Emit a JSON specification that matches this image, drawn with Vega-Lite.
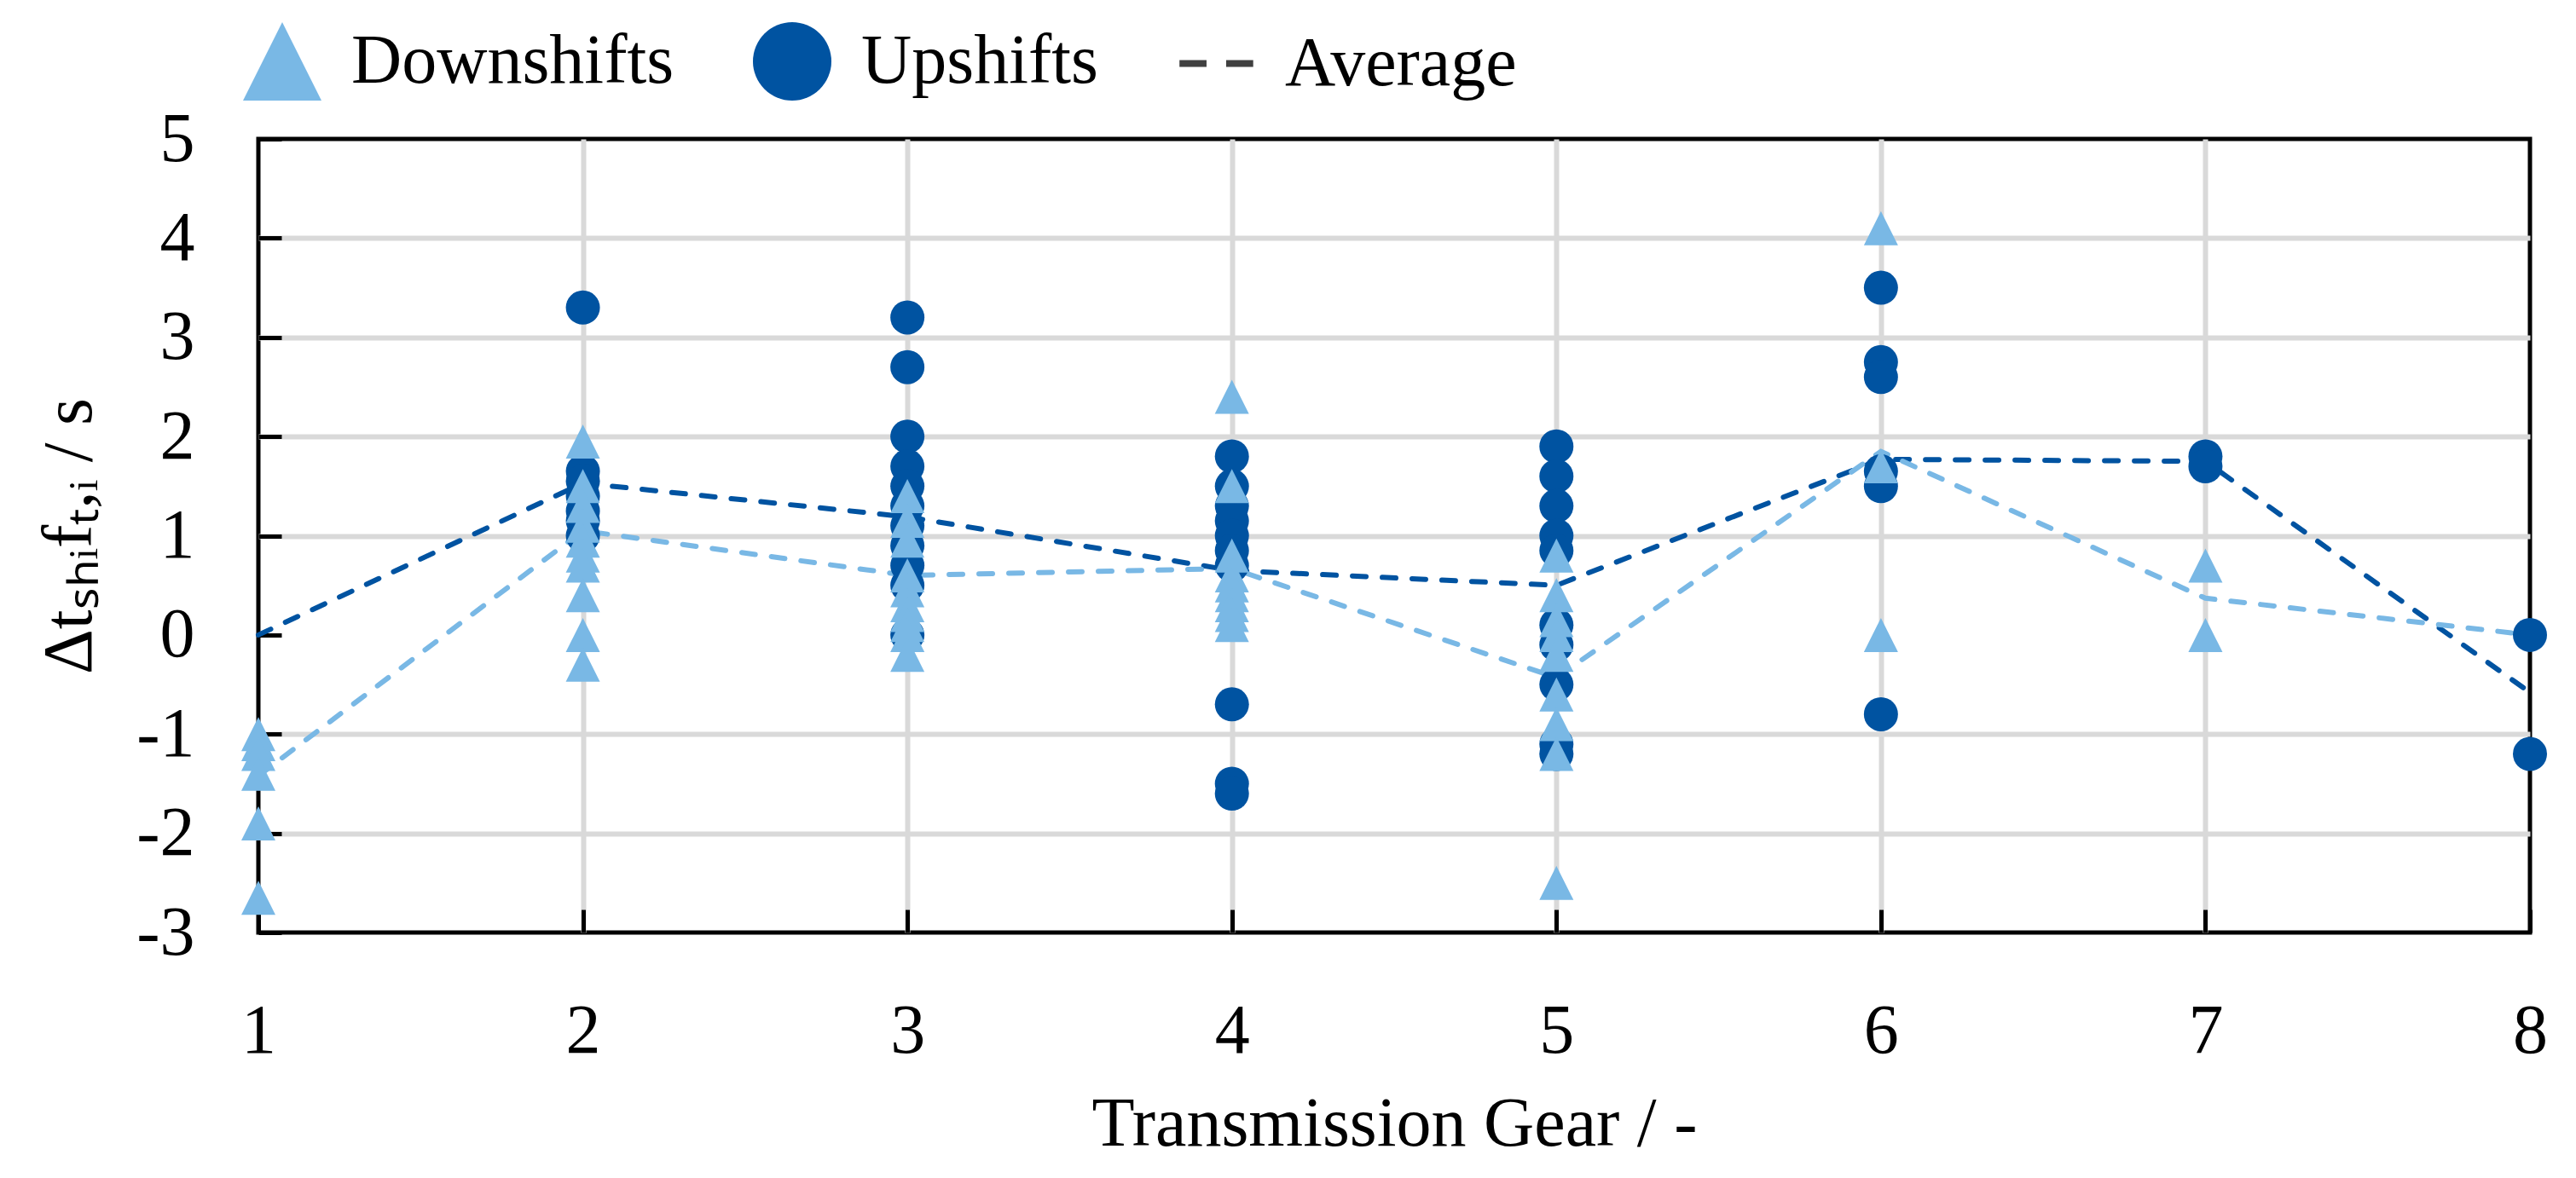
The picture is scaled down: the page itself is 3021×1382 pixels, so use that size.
{
  "$schema": "https://vega.github.io/schema/vega-lite/v6.json",
  "width": 2664,
  "height": 931,
  "autosize": {"type": "none"},
  "padding": {"left": 303, "top": 163, "right": 54, "bottom": 288},
  "background": "white",
  "config": {
    "font": "Liberation Serif",
    "view": {"stroke": "black", "strokeWidth": 5},
    "axis": {
      "labelFont": "Liberation Serif",
      "labelFontSize": 82,
      "labelColor": "black",
      "labelFlush": false,
      "titleFont": "Liberation Serif",
      "titleFontSize": 82,
      "titleFontWeight": "normal",
      "titleColor": "black",
      "domain": false,
      "tickColor": "black",
      "tickWidth": 5,
      "tickSize": -27,
      "gridWidth": 6,
      "labelPadding": 102
    },
    "legend": {
      "labelFont": "Liberation Serif",
      "labelFontSize": 82,
      "labelColor": "black",
      "labelLimit": 2000
    }
  },
  "datasets": {
    "points": [
      {"gear": 2, "value": 3.3, "type": "Upshifts"},
      {"gear": 2, "value": 1.65, "type": "Upshifts"},
      {"gear": 2, "value": 1.55, "type": "Upshifts"},
      {"gear": 2, "value": 1.4, "type": "Upshifts"},
      {"gear": 2, "value": 1.25, "type": "Upshifts"},
      {"gear": 2, "value": 1.15, "type": "Upshifts"},
      {"gear": 2, "value": 1.0, "type": "Upshifts"},
      {"gear": 3, "value": 3.2, "type": "Upshifts"},
      {"gear": 3, "value": 2.7, "type": "Upshifts"},
      {"gear": 3, "value": 2.0, "type": "Upshifts"},
      {"gear": 3, "value": 1.7, "type": "Upshifts"},
      {"gear": 3, "value": 1.5, "type": "Upshifts"},
      {"gear": 3, "value": 1.3, "type": "Upshifts"},
      {"gear": 3, "value": 1.1, "type": "Upshifts"},
      {"gear": 3, "value": 0.9, "type": "Upshifts"},
      {"gear": 3, "value": 0.7, "type": "Upshifts"},
      {"gear": 3, "value": 0.5, "type": "Upshifts"},
      {"gear": 3, "value": 0.0, "type": "Upshifts"},
      {"gear": 4, "value": 1.8, "type": "Upshifts"},
      {"gear": 4, "value": 1.5, "type": "Upshifts"},
      {"gear": 4, "value": 1.3, "type": "Upshifts"},
      {"gear": 4, "value": 1.15, "type": "Upshifts"},
      {"gear": 4, "value": 1.0, "type": "Upshifts"},
      {"gear": 4, "value": 0.85, "type": "Upshifts"},
      {"gear": 4, "value": 0.7, "type": "Upshifts"},
      {"gear": 4, "value": -0.7, "type": "Upshifts"},
      {"gear": 4, "value": -1.5, "type": "Upshifts"},
      {"gear": 4, "value": -1.6, "type": "Upshifts"},
      {"gear": 5, "value": 1.9, "type": "Upshifts"},
      {"gear": 5, "value": 1.6, "type": "Upshifts"},
      {"gear": 5, "value": 1.3, "type": "Upshifts"},
      {"gear": 5, "value": 1.0, "type": "Upshifts"},
      {"gear": 5, "value": 0.85, "type": "Upshifts"},
      {"gear": 5, "value": 0.1, "type": "Upshifts"},
      {"gear": 5, "value": -0.1, "type": "Upshifts"},
      {"gear": 5, "value": -0.5, "type": "Upshifts"},
      {"gear": 5, "value": -1.1, "type": "Upshifts"},
      {"gear": 5, "value": -1.2, "type": "Upshifts"},
      {"gear": 6, "value": 3.5, "type": "Upshifts"},
      {"gear": 6, "value": 2.75, "type": "Upshifts"},
      {"gear": 6, "value": 2.6, "type": "Upshifts"},
      {"gear": 6, "value": 1.65, "type": "Upshifts"},
      {"gear": 6, "value": 1.5, "type": "Upshifts"},
      {"gear": 6, "value": -0.8, "type": "Upshifts"},
      {"gear": 7, "value": 1.8, "type": "Upshifts"},
      {"gear": 7, "value": 1.7, "type": "Upshifts"},
      {"gear": 8, "value": 0.0, "type": "Upshifts"},
      {"gear": 8, "value": -1.2, "type": "Upshifts"},
      {"gear": 1, "value": -1.0, "type": "Downshifts"},
      {"gear": 1, "value": -1.1, "type": "Downshifts"},
      {"gear": 1, "value": -1.2, "type": "Downshifts"},
      {"gear": 1, "value": -1.4, "type": "Downshifts"},
      {"gear": 1, "value": -1.9, "type": "Downshifts"},
      {"gear": 1, "value": -2.65, "type": "Downshifts"},
      {"gear": 2, "value": 1.95, "type": "Downshifts"},
      {"gear": 2, "value": 1.5, "type": "Downshifts"},
      {"gear": 2, "value": 1.3, "type": "Downshifts"},
      {"gear": 2, "value": 1.1, "type": "Downshifts"},
      {"gear": 2, "value": 0.95, "type": "Downshifts"},
      {"gear": 2, "value": 0.8, "type": "Downshifts"},
      {"gear": 2, "value": 0.7, "type": "Downshifts"},
      {"gear": 2, "value": 0.4, "type": "Downshifts"},
      {"gear": 2, "value": 0.0, "type": "Downshifts"},
      {"gear": 2, "value": -0.3, "type": "Downshifts"},
      {"gear": 3, "value": 1.4, "type": "Downshifts"},
      {"gear": 3, "value": 1.15, "type": "Downshifts"},
      {"gear": 3, "value": 0.95, "type": "Downshifts"},
      {"gear": 3, "value": 0.6, "type": "Downshifts"},
      {"gear": 3, "value": 0.45, "type": "Downshifts"},
      {"gear": 3, "value": 0.3, "type": "Downshifts"},
      {"gear": 3, "value": 0.2, "type": "Downshifts"},
      {"gear": 3, "value": 0.1, "type": "Downshifts"},
      {"gear": 3, "value": 0.0, "type": "Downshifts"},
      {"gear": 3, "value": -0.2, "type": "Downshifts"},
      {"gear": 4, "value": 2.4, "type": "Downshifts"},
      {"gear": 4, "value": 1.5, "type": "Downshifts"},
      {"gear": 4, "value": 0.8, "type": "Downshifts"},
      {"gear": 4, "value": 0.6, "type": "Downshifts"},
      {"gear": 4, "value": 0.5, "type": "Downshifts"},
      {"gear": 4, "value": 0.4, "type": "Downshifts"},
      {"gear": 4, "value": 0.3, "type": "Downshifts"},
      {"gear": 4, "value": 0.2, "type": "Downshifts"},
      {"gear": 4, "value": 0.1, "type": "Downshifts"},
      {"gear": 5, "value": 0.8, "type": "Downshifts"},
      {"gear": 5, "value": 0.4, "type": "Downshifts"},
      {"gear": 5, "value": 0.15, "type": "Downshifts"},
      {"gear": 5, "value": 0.0, "type": "Downshifts"},
      {"gear": 5, "value": -0.2, "type": "Downshifts"},
      {"gear": 5, "value": -0.6, "type": "Downshifts"},
      {"gear": 5, "value": -0.9, "type": "Downshifts"},
      {"gear": 5, "value": -1.2, "type": "Downshifts"},
      {"gear": 5, "value": -2.5, "type": "Downshifts"},
      {"gear": 6, "value": 4.1, "type": "Downshifts"},
      {"gear": 6, "value": 1.7, "type": "Downshifts"},
      {"gear": 6, "value": 0.0, "type": "Downshifts"},
      {"gear": 7, "value": 0.7, "type": "Downshifts"},
      {"gear": 7, "value": 0.0, "type": "Downshifts"}
    ],
    "avg": [
      {"gear": 1, "value": 0.0, "type": "Upshifts"},
      {"gear": 2, "value": 1.53, "type": "Upshifts"},
      {"gear": 3, "value": 1.19, "type": "Upshifts"},
      {"gear": 4, "value": 0.65, "type": "Upshifts"},
      {"gear": 5, "value": 0.5, "type": "Upshifts"},
      {"gear": 6, "value": 1.77, "type": "Upshifts"},
      {"gear": 7, "value": 1.75, "type": "Upshifts"},
      {"gear": 8, "value": -0.58, "type": "Upshifts"},
      {"gear": 1, "value": -1.42, "type": "Downshifts"},
      {"gear": 2, "value": 1.05, "type": "Downshifts"},
      {"gear": 3, "value": 0.6, "type": "Downshifts"},
      {"gear": 4, "value": 0.67, "type": "Downshifts"},
      {"gear": 5, "value": -0.43, "type": "Downshifts"},
      {"gear": 6, "value": 1.85, "type": "Downshifts"},
      {"gear": 7, "value": 0.37, "type": "Downshifts"},
      {"gear": 8, "value": 0.0, "type": "Downshifts"}
    ]
  },
  "encoding": {
    "x": {
      "field": "gear",
      "type": "quantitative",
      "scale": {"domain": [1, 8], "nice": false, "zero": false},
      "axis": {
        "values": [1, 2, 3, 4, 5, 6, 7, 8],
        "title": "Transmission Gear / -",
        "titlePadding": 28,
        "gridColor": {"condition": {"test": "datum.value == 1 || datum.value == 8", "value": "transparent"}, "value": "#d9d9d9"}
      }
    },
    "y": {
      "field": "value",
      "type": "quantitative",
      "scale": {"domain": [-3, 5], "nice": false, "zero": false},
      "axis": {
        "values": [-3, -2, -1, 0, 1, 2, 3, 4, 5],
        "labelExpr": "'' + datum.value",
        "title": "Δtₛₕᵢfₜ,ᵢ / s",
        "titlePadding": 36,
        "gridColor": {"condition": {"test": "datum.value == 5 || datum.value == -3 || datum.value == 0", "value": "transparent"}, "value": "#d9d9d9"}
      }
    }
  },
  "layer": [
    {
      "data": {"values": [{"z": 0}]},
      "mark": {"type": "rule", "color": "black", "strokeWidth": 5},
      "encoding": {"x": null, "y": {"datum": 0}}
    },
    {
      "data": {"name": "avg"},
      "mark": {"type": "line", "strokeDash": [16, 19], "strokeWidth": 6, "strokeCap": "round"},
      "encoding": {
        "stroke": {
          "field": "type",
          "type": "nominal",
          "scale": {"domain": ["Downshifts", "Upshifts"], "range": ["#79b8e5", "#0053a1"]},
          "legend": null
        }
      }
    },
    {
      "data": {"name": "points"},
      "mark": {"type": "point", "filled": true, "opacity": 1},
      "encoding": {
        "size": {"value": 1600},
        "color": {
          "field": "type",
          "type": "nominal",
          "scale": {"domain": ["Downshifts", "Upshifts", "Average"], "range": ["#79b8e5", "#0053a1", "#404040"]},
          "legend": {
            "title": null,
            "orient": "none",
            "direction": "horizontal",
            "legendX": -18,
            "legendY": -137,
            "symbolSize": 8464,
            "symbolStrokeWidth": 0,
            "labelOffset": 35,
            "columnPadding": 92,
            "padding": 0,
            "encode": {
              "symbols": {
                "update": {
                  "shape": {"signal": "datum.label === 'Downshifts' ? 'triangle-up' : datum.label === 'Upshifts' ? 'circle' : 'M-0.93,-0.087H-0.24V0.087H-0.93Z M0.26,-0.087H0.95V0.087H0.26Z'"},
                  "size": {"signal": "datum.label === 'Upshifts' ? 6241 : 8464"},
                  "opacity": {"value": 1}
                }
              }
            }
          }
        },
        "shape": {
          "field": "type",
          "type": "nominal",
          "scale": {"domain": ["Downshifts", "Upshifts", "Average"], "range": ["M0,-1L1,1L-1,1Z", "circle", "M-0.93,-0.087H-0.24V0.087H-0.93Z M0.26,-0.087H0.95V0.087H0.26Z"]}
        }
      }
    }
  ],
  "resolve": {"scale": {"stroke": "independent"}}
}
